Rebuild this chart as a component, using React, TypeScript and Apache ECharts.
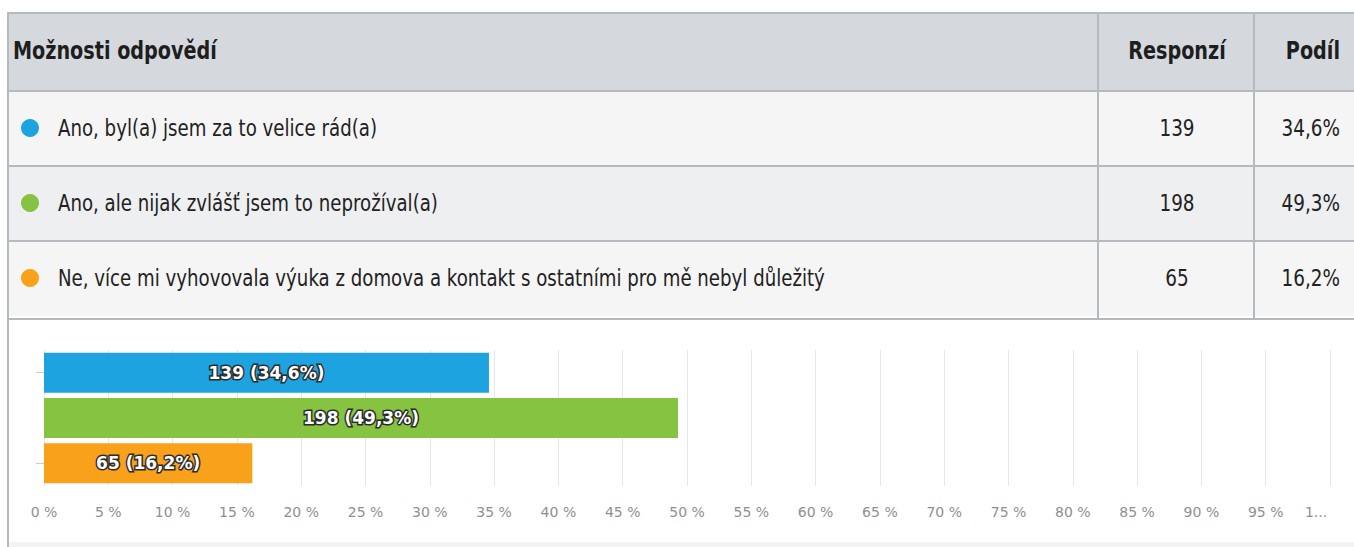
import React, { useEffect, useRef } from "react";
import * as echarts from "echarts";

const headers = ["Možnosti odpovědí", "Responzí", "Podíl"];
const categories = [
  "Ano, byl(a) jsem za to velice rád(a)",
  "Ano, ale nijak zvlášť jsem to neprožíval(a)",
  "Ne, více mi vyhovovala výuka z domova a kontakt s ostatními pro mě nebyl důležitý",
];
const counts = [139, 198, 65];
const shares = [34.6, 49.3, 16.2];
const colors = ["#1ea3e1", "#85c341", "#f9a11b"];
const xTicks = [0, 5, 10, 15, 20, 25, 30, 35, 40, 45, 50, 55, 60, 65, 70, 75, 80, 85, 90, 95, 100];

const fmtPct = (v: number) => v.toFixed(1).replace(".", ",") + "%";

const TABLE_FONT = "'DejaVu Sans', sans-serif";

export default function App() {
  const ref = useRef<HTMLDivElement>(null);
  useEffect(() => {
    if (!ref.current) return;
    const chart = echarts.init(ref.current, null, { renderer: "svg" });

    const rowTop = [92, 167, 242];
    const rowH = 74;
    const rowFill = ["#f5f5f5", "#eeeff0", "#f5f5f5"];
    const borderColor = "#b4bbc0";
    const graphic: any[] = [];
    graphic.push({ type: "rect", shape: { x: 8, y: 13, width: 1346, height: 78 }, style: { fill: "#d5d9dd" }, silent: true });
    rowTop.forEach((t, i) => {
      graphic.push({ type: "rect", shape: { x: 8, y: t, width: 1346, height: rowH }, style: { fill: rowFill[i] }, silent: true });
    });
    graphic.push({ type: "rect", shape: { x: 8, y: 542, width: 1346, height: 5 }, style: { fill: "#f3f3f3" }, silent: true });
    [13, 91, 166, 241, 319].forEach((y) => {
      graphic.push({ type: "line", shape: { x1: 8, y1: y, x2: 1354, y2: y }, style: { stroke: borderColor, lineWidth: 2 }, silent: true });
    });
    [1098, 1254].forEach((x) => {
      graphic.push({ type: "line", shape: { x1: x, y1: 13, x2: x, y2: 319 }, style: { stroke: borderColor, lineWidth: 2 }, silent: true });
    });
    graphic.push({ type: "line", shape: { x1: 8, y1: 12, x2: 8, y2: 547 }, style: { stroke: borderColor, lineWidth: 2 }, silent: true });

    const headFont = `bold 24px ${TABLE_FONT}`;
    graphic.push({ type: "text", x: 13, y: 51, scaleX: 0.8, style: { text: headers[0], font: headFont, fill: "#1e1e1e", textVerticalAlign: "middle", textAlign: "left" }, silent: true });
    graphic.push({ type: "text", x: 1177, y: 51, scaleX: 0.8, style: { text: headers[1], font: headFont, fill: "#1e1e1e", textVerticalAlign: "middle", textAlign: "center" }, silent: true });
    graphic.push({ type: "text", x: 1340, y: 51, scaleX: 0.8, style: { text: headers[2], font: headFont, fill: "#1e1e1e", textVerticalAlign: "middle", textAlign: "right" }, silent: true });

    const rowFont = `23px ${TABLE_FONT}`;
    categories.forEach((c, i) => {
      const cy = rowTop[i] + rowH / 2 - 1;
      graphic.push({ type: "circle", shape: { cx: 30, cy, r: 9 }, style: { fill: colors[i] }, silent: true });
      graphic.push({ type: "text", x: 58, y: cy, scaleX: 0.79, style: { text: c, font: rowFont, fill: "#222", textVerticalAlign: "middle", textAlign: "left" }, silent: true });
      graphic.push({ type: "text", x: 1177, y: cy, scaleX: 0.8, style: { text: String(counts[i]), font: rowFont, fill: "#222", textVerticalAlign: "middle", textAlign: "center" }, silent: true });
      graphic.push({ type: "text", x: 1340, y: cy, scaleX: 0.8, style: { text: fmtPct(shares[i]), font: rowFont, fill: "#222", textVerticalAlign: "middle", textAlign: "right" }, silent: true });
    });

    chart.setOption({
      animation: false,
      backgroundColor: "#ffffff",
      graphic,
      grid: { left: 44, right: 24, top: 350, height: 136, containLabel: false },
      xAxis: {
        type: "value",
        min: 0,
        max: 100,
        interval: 5,
        axisLine: { show: false },
        axisTick: { show: false },
        splitLine: { show: true, lineStyle: { color: "#e6e6e6", width: 1 } },
        axisLabel: {
          margin: 19,
          color: "#8f8f8f",
          fontSize: 14,
          fontFamily: "'DejaVu Sans', sans-serif",
          formatter: (v: number) => (xTicks.indexOf(v) === xTicks.length - 1 ? "{t|1...}" : v + " %"),
          rich: { t: { color: "#8f8f8f", fontSize: 14, fontFamily: "'DejaVu Sans', sans-serif", padding: [0, 28, 0, 0] } },
        },
      },
      yAxis: {
        type: "category",
        inverse: true,
        data: categories,
        offset: 4,
        axisLine: { show: false },
        axisLabel: { show: false },
        axisTick: {
          show: true,
          alignWithLabel: true,
          length: 8,
          interval: (idx: number) => idx !== 1,
          lineStyle: { color: "#cccccc" },
        },
        splitLine: { show: false },
      },
      series: [
        {
          type: "bar",
          barWidth: 40,
          data: shares.map((v, i) => ({ value: v, itemStyle: { color: colors[i] } })),
          label: {
            show: true,
            position: "inside",
            formatter: (p: any) => `${counts[p.dataIndex]} (${fmtPct(shares[p.dataIndex])})`,
            color: "#ffffff",
            fontWeight: "bold",
            fontSize: 17,
            fontFamily: "'DejaVu Sans', sans-serif",
            textBorderColor: "#2b2b2b",
            textBorderWidth: 3,
          },
        },
      ],
    });
    return () => chart.dispose();
  }, []);
  return <div ref={ref} style={{ position: "fixed", left: 0, top: 0, width: 1354, height: 547, background: "#fff" }} />;
}
